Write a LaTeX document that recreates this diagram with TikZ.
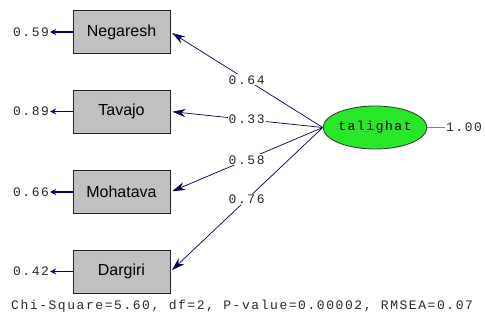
\documentclass[tikz,border=0pt]{standalone}
\usepackage{fontspec}
\setsansfont{Liberation Sans}
\newfontfamily\numfont[LetterSpace=12]{Liberation Mono}
\usetikzlibrary{arrows.meta,shapes.geometric}
\definecolor{navy}{RGB}{0,0,128}
\definecolor{boxgray}{RGB}{192,192,192}
\definecolor{latgreen}{RGB}{40,230,40}
\definecolor{numgray}{RGB}{40,40,40}
\begin{document}
\begin{tikzpicture}[x=1pt,y=-1pt,
  obs/.style={draw=black!85, line width=1pt, fill=boxgray, minimum width=97pt, minimum height=43pt, inner sep=0pt, font=\sffamily\fontsize{16}{16}\selectfont},
  num/.style={font=\numfont\fontsize{13}{13}\selectfont, text=numgray, inner sep=1pt},
  lab/.style={num, fill=white},
  err/.style={draw=navy, line width=1.8pt, -{Stealth[length=6pt,width=6pt]}},
  load/.style={draw=navy!55!black, line width=0.7pt, shorten >=2pt, -{Stealth[length=13pt,width=8pt,fill=navy]}},
  lat/.style={ellipse, draw=black!80, line width=0.8pt, fill=latgreen, minimum width=96pt, minimum height=43pt, inner sep=0pt, font=\numfont\fontsize{13}{13}\selectfont}]
\useasboundingbox (0,0) rectangle (485,333);
\node[obs] (n1) at (121.5,32) {Negaresh};
\node[obs] (n2) at (121.5,111.5) {Tavajo};
\node[obs] (n3) at (121.5,192) {Mohatava};
\node[obs] (n4) at (121.5,271.5) {Dargiri};
\node[lat] (t) at (375,127.5) {talighat};
\node[num] (e1) at (31,32) {0.59};
\node[num] (e2) at (31,111.5) {0.89};
\node[num] (e3) at (31,192) {0.66};
\node[num] (e4) at (31,271.5) {0.42};
\draw[err] (n1.west) -- (e1.east);
\draw[err] (n2.west) -- (e2.east);
\draw[err] (n3.west) -- (e3.east);
\draw[err] (n4.west) -- (e4.east);
\draw[load] (t.west) -- node[lab] {0.64} (n1.east);
\draw[load] (t.west) -- node[lab] {0.33} (n2.east);
\draw[load] (t.west) -- node[lab] {0.58} (n3.east);
\draw[load] (t.west) -- node[lab] {0.76} (n4.east);
\node[num] (v) at (464,127.5) {1.00};
\draw[gray, line width=0.6pt] (t.east) -- (v.west);
\node[num, anchor=west] (chi) at (10,306) {Chi-Square=5.60, df=2, P-value=0.00002, RMSEA=0.07};
\end{tikzpicture}
\end{document}
